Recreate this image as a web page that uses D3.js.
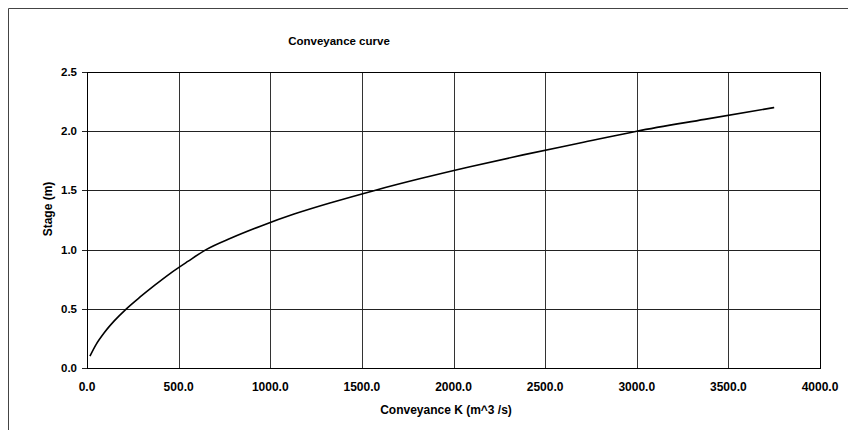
<!DOCTYPE html>
<html>
<head>
<meta charset="utf-8">
<script src="https://cdn.jsdelivr.net/npm/d3@7"></script>
<style>
  html, body { margin: 0; padding: 0; background: #fff; overflow: hidden; }
  svg { display: block; font-family: "Liberation Sans", Arial, sans-serif; }
</style>
</head>
<body>
<div id="chart"></div>
<script>
// stage (m) and conveyance K (m^3/s)
const stage = [0.1, 0.2, 0.3, 0.4, 0.5, 0.6, 0.7, 0.8, 0.9, 1.0, 1.1,
  1.2, 1.3, 1.4, 1.5, 1.6, 1.7, 1.8, 1.9, 2.0, 2.1, 2.2];
const conveyance = [16, 50, 95, 150, 215, 290, 370, 455, 550, 650, 790,
  950, 1130, 1340, 1570, 1820, 2090, 2380, 2690, 3000, 3370, 3750];

const xTicks = [0, 500, 1000, 1500, 2000, 2500, 3000, 3500, 4000];
const yTicks = [0, 0.5, 1.0, 1.5, 2.0, 2.5];

const title = "Conveyance curve";
const xTitle = "Conveyance K (m^3 /s)";
const yTitle = "Stage (m)";

const width = 848;
const height = 430;
const margin = { top: 72, right: 28, bottom: 62, left: 87 };
const innerWidth = width - margin.left - margin.right;
const innerHeight = height - margin.top - margin.bottom;
const fmt = d3.format(".1f");

const svg = d3.select("#chart")
  .append("svg")
  .attr("width", width)
  .attr("height", height)
  .attr("viewBox", `0 0 ${width} ${height}`);

// outer chart frame (only top and left edges show in the scan)
svg.append("path")
  .attr("d", `M8.5,${height}V8.5H${width}`)
  .attr("fill", "none")
  .attr("stroke", "#444")
  .attr("stroke-width", 1);

svg.append("text")
  .attr("x", 339)
  .attr("y", 45)
  .attr("text-anchor", "middle")
  .attr("font-size", 11.5)
  .attr("font-weight", "bold")
  .text(title);

const chart = svg.append("g")
  .attr("transform", `translate(${margin.left},${margin.top})`);

const x = d3.scaleLinear().domain([0, 4000]).range([0, innerWidth]);
const y = d3.scaleLinear().domain([0, 2.5]).range([innerHeight, 0]);

// grid
chart.append("g")
  .selectAll("line")
  .data(xTicks)
  .join("line")
  .attr("x1", (d) => Math.round(x(d)) + 0.5)
  .attr("x2", (d) => Math.round(x(d)) + 0.5)
  .attr("y1", 0)
  .attr("y2", innerHeight)
  .attr("stroke", "#333");

chart.append("g")
  .selectAll("line")
  .data(yTicks)
  .join("line")
  .attr("x1", -5)
  .attr("x2", innerWidth)
  .attr("y1", (d) => Math.round(y(d)) + 0.5)
  .attr("y2", (d) => Math.round(y(d)) + 0.5)
  .attr("stroke", "#222");

// tick labels
chart.append("g")
  .selectAll("text")
  .data(xTicks)
  .join("text")
  .attr("x", (d) => x(d))
  .attr("y", innerHeight + 23)
  .attr("text-anchor", "middle")
  .attr("font-size", 12)
  .attr("font-weight", "bold")
  .text(fmt);

chart.append("g")
  .selectAll("text")
  .data(yTicks)
  .join("text")
  .attr("x", -10)
  .attr("y", (d) => y(d) + 4)
  .attr("text-anchor", "end")
  .attr("font-size", 11.5)
  .attr("font-weight", "bold")
  .text(fmt);

// plot frame
chart.append("rect")
  .attr("x", 0.5)
  .attr("y", 0.5)
  .attr("width", innerWidth)
  .attr("height", innerHeight)
  .attr("fill", "none")
  .attr("stroke", "#000");

// curve
const points = stage.map((s, i) => ({ k: conveyance[i], s }));
chart.append("path")
  .datum(points)
  .attr("fill", "none")
  .attr("stroke", "#000")
  .attr("stroke-width", 1.6)
  .attr("d", d3.line().x((d) => x(d.k)).y((d) => y(d.s)).curve(d3.curveMonotoneX));

svg.append("text")
  .attr("x", 446)
  .attr("y", 414)
  .attr("text-anchor", "middle")
  .attr("font-size", 12)
  .attr("font-weight", "bold")
  .text(xTitle);

svg.append("text")
  .attr("transform", "translate(52,209) rotate(-90)")
  .attr("text-anchor", "middle")
  .attr("font-size", 12)
  .attr("font-weight", "bold")
  .text(yTitle);
</script>
</body>
</html>
